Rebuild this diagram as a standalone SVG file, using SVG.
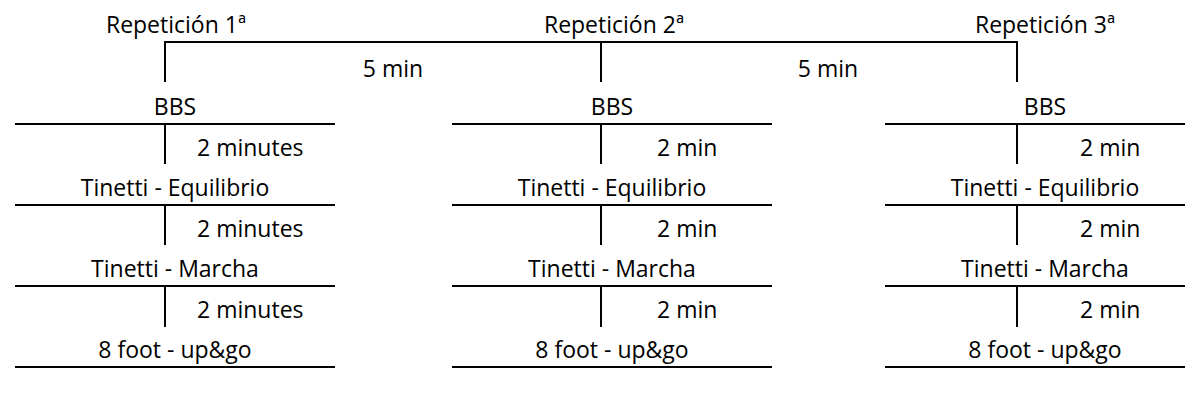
<svg xmlns="http://www.w3.org/2000/svg" width="1185" height="405" viewBox="0 0 1185 405">
  <style>
    text { font-family: "Open Sans", "Liberation Sans", sans-serif; font-size: 23px; fill: #000; }
    .c { text-anchor: middle; }
    line { stroke: #000; stroke-width: 2; }
  </style>
  <rect width="1185" height="405" fill="#fff"/>

  <!-- Repetition headers -->
  <g id="rep1"><text class="c" x="176" y="33">Repetición 1ª</text></g>
  <g id="rep2"><text class="c" x="614" y="33">Repetición 2ª</text></g>
  <g id="rep3"><text class="c" x="1045" y="33">Repetición 3ª</text></g>

  <!-- Rest interval labels between repetitions -->
  <g id="rest1"><text class="c" x="393" y="77">5 min</text></g>
  <g id="rest2"><text class="c" x="828" y="77">5 min</text></g>

  <!-- Column 1 tests -->
  <g id="c1-bbs"><text class="c" x="175" y="115">BBS</text><line x1="15" y1="124" x2="335" y2="124"/></g>
  <g id="c1-eq"><text class="c" x="175" y="196">Tinetti - Equilibrio</text><line x1="15" y1="205" x2="335" y2="205"/></g>
  <g id="c1-mar"><text class="c" x="175" y="277">Tinetti - Marcha</text><line x1="15" y1="286" x2="335" y2="286"/></g>
  <g id="c1-8ft"><text class="c" x="175" y="358">8 foot - up&amp;go</text><line x1="15" y1="367" x2="335" y2="367"/></g>

  <!-- Column 2 tests -->
  <g id="c2-bbs"><text class="c" x="612" y="115">BBS</text><line x1="452" y1="124" x2="772" y2="124"/></g>
  <g id="c2-eq"><text class="c" x="612" y="196">Tinetti - Equilibrio</text><line x1="452" y1="205" x2="772" y2="205"/></g>
  <g id="c2-mar"><text class="c" x="612" y="277">Tinetti - Marcha</text><line x1="452" y1="286" x2="772" y2="286"/></g>
  <g id="c2-8ft"><text class="c" x="612" y="358">8 foot - up&amp;go</text><line x1="452" y1="367" x2="772" y2="367"/></g>

  <!-- Column 3 tests -->
  <g id="c3-bbs"><text class="c" x="1045" y="115">BBS</text><line x1="885" y1="124" x2="1185" y2="124"/></g>
  <g id="c3-eq"><text class="c" x="1045" y="196">Tinetti - Equilibrio</text><line x1="885" y1="205" x2="1185" y2="205"/></g>
  <g id="c3-mar"><text class="c" x="1045" y="277">Tinetti - Marcha</text><line x1="885" y1="286" x2="1185" y2="286"/></g>
  <g id="c3-8ft"><text class="c" x="1045" y="358">8 foot - up&amp;go</text><line x1="885" y1="367" x2="1185" y2="367"/></g>

  <!-- Interval labels between tests -->
  <g id="gaps">
    <text x="197" y="156">2 minutes</text>
    <text x="197" y="237">2 minutes</text>
    <text x="197" y="318">2 minutes</text>
    <text x="657" y="156">2 min</text>
    <text x="657" y="237">2 min</text>
    <text x="657" y="318">2 min</text>
    <text x="1080" y="156">2 min</text>
    <text x="1080" y="237">2 min</text>
    <text x="1080" y="318">2 min</text>
  </g>

  <!-- Connectors -->
  <g id="connectors">
    <line x1="164" y1="42" x2="1018" y2="42"/>
    <line x1="165" y1="42" x2="165" y2="82"/>
    <line x1="601" y1="42" x2="601" y2="82"/>
    <line x1="1017" y1="42" x2="1017" y2="82"/>
    <line x1="165" y1="124" x2="165" y2="164"/>
    <line x1="165" y1="205" x2="165" y2="245"/>
    <line x1="165" y1="286" x2="165" y2="327"/>
    <line x1="601" y1="124" x2="601" y2="164"/>
    <line x1="601" y1="205" x2="601" y2="245"/>
    <line x1="601" y1="286" x2="601" y2="327"/>
    <line x1="1017" y1="124" x2="1017" y2="164"/>
    <line x1="1017" y1="205" x2="1017" y2="245"/>
    <line x1="1017" y1="286" x2="1017" y2="327"/>
  </g>
</svg>
